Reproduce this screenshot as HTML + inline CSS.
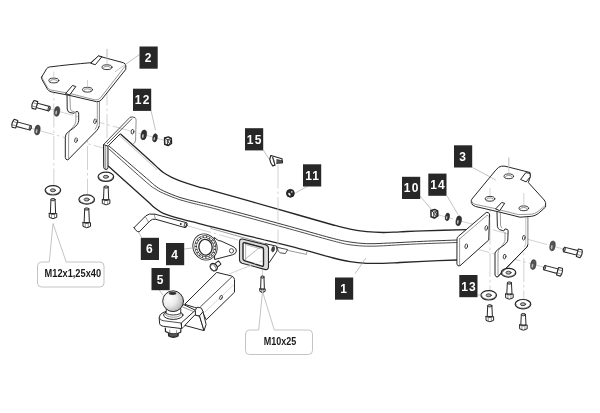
<!DOCTYPE html>
<html><head><meta charset="utf-8"><title>Tow bar assembly</title>
<style>
html,body{margin:0;padding:0;background:#fff;}
svg{display:block;will-change:transform}
.k{fill:none;stroke:#262626;stroke-width:1;stroke-linecap:round;stroke-linejoin:round}
.kw{fill:#fff;stroke:#262626;stroke-width:1;stroke-linecap:round;stroke-linejoin:round}
.t{fill:none;stroke:#555;stroke-width:.6;stroke-linecap:round;stroke-linejoin:round}
.c{stroke:#c6c6c6;stroke-width:.8;stroke-dasharray:24 3 2.5 3;fill:none}
.ld{stroke:#999;stroke-width:.6;fill:none}
.co{fill:#fff;stroke:#b5b5b5;stroke-width:.8;stroke-linejoin:round}
.lb{font-family:"Liberation Sans",sans-serif;font-weight:bold;font-size:12px;fill:#fff;text-anchor:middle;letter-spacing:1.2px}
.ct{font-family:"Liberation Sans",sans-serif;font-weight:bold;font-size:10px;fill:#1a1a1a;text-anchor:middle}
</style></head><body>
<svg width="600" height="413" viewBox="0 0 600 413">
<rect width="600" height="413" fill="#fff"/>
<line class="c" x1="53.80" y1="71.00" x2="53.80" y2="186.00"/>
<line class="c" x1="87.50" y1="81.00" x2="87.50" y2="196.00"/>
<line class="c" x1="107.00" y1="49.00" x2="107.00" y2="173.00"/>
<line class="c" x1="50.00" y1="109.00" x2="167.00" y2="141.00"/>
<line class="c" x1="31.00" y1="128.30" x2="104.00" y2="148.20"/>
<line class="c" x1="508.80" y1="157.50" x2="508.80" y2="172.00"/>
<line class="c" x1="490.00" y1="188.00" x2="490.00" y2="292.00"/>
<line class="c" x1="523.80" y1="193.00" x2="523.80" y2="300.00"/>
<line class="c" x1="509.00" y1="250.00" x2="509.00" y2="270.00"/>
<line class="c" x1="430.00" y1="212.60" x2="580.00" y2="253.60"/>
<line class="c" x1="466.00" y1="246.20" x2="560.00" y2="271.50"/>
<line class="c" x1="262.50" y1="262.00" x2="262.50" y2="278.00"/>
<path fill="#fff" stroke="none" d="M67,92 L67.2,109 Q67.5,112 70,112.6 L74.2,113.3 L75.8,111.7 L78,111.7 Q78.8,112 78.7,114.2 L78.7,120.5 C78.7,126 70,130 67.3,132.7 Q65.3,134.7 65.3,137.5 L65.3,157.5 Q65.5,159.8 67.8,160 L96.5,130.8 Q99.4,127.5 99.4,124 L99.4,96 Z"/>
<path class="k" d="M67,92 L67.2,109 Q67.5,112 70,112.6 L74.2,113.3 L75.8,111.7 L78,111.7 Q78.8,112 78.7,114.2 L78.7,120.5 C78.7,126 70,130 67.3,132.7 Q65.3,134.7 65.3,137.5 L65.3,157.5 Q65.5,159.8 67.8,160 L96.5,130.8 Q98.6,128.6 99.1,126.5" />
<path class="k" d="M99.1,126.5 Q99.4,125.5 99.4,124 L99.4,96" style="stroke:#707070;stroke-width:.9"/>
<path class="t" d="M75.9,113.2 L75.9,120.5 C75.9,125 71,128.5 69.6,131 Q68.6,133 68.6,137 L68.6,158.5" />
<path class="t" d="M69.8,94.5 L70.4,108.8 Q70.6,110.6 72,111.2 L74.2,111.5" />
<path class="t" d="M97.3,101 L97.3,124 Q97.2,126.6 95,129.4" />
<ellipse class="k" style="stroke-width:.8;fill:#fff" cx="95.00" cy="121.30" rx="1.30" ry="2.40" transform="rotate(10.0 95.00 121.30)"/>
<ellipse class="k" style="stroke-width:.8;fill:#fff" cx="76.00" cy="140.20" rx="1.30" ry="2.40" transform="rotate(10.0 76.00 140.20)"/>
<path class="kw" d="M41.7,77 L46.8,68.5 Q47.5,67.3 49.5,67 C62,65.3 78,63.8 90.8,62.7 L98.3,56 L123.3,62.7 Q126.2,63.8 125.8,66 L125.8,69.3 L101.5,99.7 Q99.5,102 96.5,101.7 L70,95.5 L51,91.8 Q48.5,91 47.5,89.3 L42,79.5 Q41.3,78 41.7,77 Z" />
<path class="t" d="M42,77.8 L47.5,87.5 Q48.5,89.3 51,90 L70,93.5 L95,99.9 Q98.5,100.3 100.5,97.8 L125.6,65.6" />
<path class="kw" d="M91,63 L98.3,56 L102,56.6 L95.6,64.4 Z" />
<path class="kw" d="M65.8,93.3 L72.5,85.5 L75.8,86.5 L70,94.6 Z" />
<ellipse class="k" style="stroke-width:.9;fill:#fff" cx="53.80" cy="80.50" rx="5.00" ry="2.40"/>
<path class="t" d="M50.00,81.40 a3.80,1.80 0 0 1 7.60,0"/>
<ellipse class="k" style="stroke-width:.9;fill:#fff" cx="87.50" cy="89.70" rx="5.00" ry="2.40"/>
<path class="t" d="M83.70,90.60 a3.80,1.80 0 0 1 7.60,0"/>
<ellipse class="k" style="stroke-width:.9;fill:#fff" cx="107.00" cy="67.20" rx="5.00" ry="2.40"/>
<path class="t" d="M103.20,68.10 a3.80,1.80 0 0 1 7.60,0"/>
<line class="c" x1="53.80" y1="71.50" x2="53.80" y2="77.00"/>
<line class="c" x1="87.50" y1="80.00" x2="87.50" y2="86.50"/>
<line class="c" x1="107.00" y1="49.00" x2="107.00" y2="64.00"/>
<line class="ld" x1="115.00" y1="71.80" x2="139.50" y2="54.50"/>
<g transform="translate(36.80 105.40) rotate(15.0)">
<path class="kw" d="M0,-2.3 L13.0,-2.3 L13.0,2.3 L0,2.3 Z"/>
<ellipse class="k" style="stroke-width:.8;fill:#999" cx="12.7" cy="0" rx="1.0" ry="2.3"/>
<path class="kw" style="stroke-width:1.1" d="M0,-3.9 L-3.8,-4.1 Q-5.9,0 -3.8,4.1 L0,3.9 Z"/>
<path class="t" d="M0,-1.5 L-4.8,-1.7 M0,1.7 L-4.8,1.8"/>
</g>
<g transform="translate(16.80 124.20) rotate(15.0)">
<path class="kw" d="M0,-2.3 L14.3,-2.3 L14.3,2.3 L0,2.3 Z"/>
<ellipse class="k" style="stroke-width:.8;fill:#999" cx="14.0" cy="0" rx="1.0" ry="2.3"/>
<path class="kw" style="stroke-width:1.1" d="M0,-3.9 L-3.8,-4.1 Q-5.9,0 -3.8,4.1 L0,3.9 Z"/>
<path class="t" d="M0,-1.5 L-4.8,-1.7 M0,1.7 L-4.8,1.8"/>
</g>
<g transform="rotate(8.0 57.00 111.40)">
<ellipse cx="57.00" cy="111.40" rx="2.70" ry="5.00" fill="#4a4a4a" stroke="#2a2a2a" stroke-width=".5"/>
<ellipse cx="56.33" cy="112.65" rx="0.89" ry="2.10" fill="#bbb"/>
</g>
<g transform="rotate(8.0 37.40 130.00)">
<ellipse cx="37.40" cy="130.00" rx="2.70" ry="5.00" fill="#4a4a4a" stroke="#2a2a2a" stroke-width=".5"/>
<ellipse cx="36.73" cy="131.25" rx="0.89" ry="2.10" fill="#bbb"/>
</g>
<ellipse class="kw" style="stroke-width:1.2" cx="52.90" cy="190.30" rx="7.80" ry="4.70"/>
<path class="t" d="M45.90,190.50 a7.00,3.80 0 0 0 14.00,0"/>
<ellipse class="k" style="stroke-width:.8;fill:#b5b5b5" cx="52.90" cy="190.30" rx="2.6" ry="1.5"/>
<ellipse class="kw" style="stroke-width:1.2" cx="86.70" cy="199.50" rx="7.80" ry="4.70"/>
<path class="t" d="M79.70,199.70 a7.00,3.80 0 0 0 14.00,0"/>
<ellipse class="k" style="stroke-width:.8;fill:#b5b5b5" cx="86.70" cy="199.50" rx="2.6" ry="1.5"/>
<ellipse class="kw" style="stroke-width:1.2" cx="105.90" cy="176.80" rx="7.80" ry="4.70"/>
<path class="t" d="M98.90,177.00 a7.00,3.80 0 0 0 14.00,0"/>
<ellipse class="k" style="stroke-width:.8;fill:#b5b5b5" cx="105.90" cy="176.80" rx="2.6" ry="1.5"/>
<path class="kw" d="M50.93,199.60 L50.39,213.46 L55.61,213.46 L55.07,199.60 Z"/>
<ellipse class="k" style="stroke-width:.8;fill:#aaa" cx="53.00" cy="199.60" rx="2.07" ry="1.2"/>
<path class="kw" d="M49.22,213.46 L49.22,217.30 Q53.00,220.00 56.78,217.30 L56.78,213.46 Q53.00,215.26 49.22,213.46 Z"/>
<path class="t" d="M51.47,214.26 L51.47,218.50 M54.53,214.26 L54.53,218.50"/>
<path class="kw" d="M84.68,209.00 L84.14,222.56 L89.36,222.56 L88.82,209.00 Z"/>
<ellipse class="k" style="stroke-width:.8;fill:#aaa" cx="86.75" cy="209.00" rx="2.07" ry="1.2"/>
<path class="kw" d="M82.97,222.56 L82.97,226.40 Q86.75,229.10 90.53,226.40 L90.53,222.56 Q86.75,224.36 82.97,222.56 Z"/>
<path class="t" d="M85.22,223.36 L85.22,227.60 M88.28,223.36 L88.28,227.60"/>
<path class="kw" d="M104.03,187.00 L103.49,199.66 L108.71,199.66 L108.17,187.00 Z"/>
<ellipse class="k" style="stroke-width:.8;fill:#aaa" cx="106.10" cy="187.00" rx="2.07" ry="1.2"/>
<path class="kw" d="M102.32,199.66 L102.32,203.50 Q106.10,206.20 109.88,203.50 L109.88,199.66 Q106.10,201.46 102.32,199.66 Z"/>
<path class="t" d="M104.57,200.46 L104.57,204.70 M107.63,200.46 L107.63,204.70"/>
<path fill="#fff" stroke="none" d="M120.80,134.20 C125.67,138.58 143.75,154.82 150.00,160.50 C156.25,166.18 156.08,166.30 158.30,168.30 C160.52,170.30 161.07,171.00 163.30,172.50 C165.53,174.00 168.92,175.92 171.70,177.30 C174.48,178.68 175.83,179.30 180.00,180.80 C184.17,182.30 191.15,184.63 196.70,186.30 C202.25,187.97 203.87,188.15 213.30,190.80 C222.73,193.45 238.85,198.08 253.30,202.20 C267.75,206.32 286.67,211.70 300.00,215.50 C313.33,219.30 324.97,222.72 333.30,225.00 C341.63,227.28 344.43,228.08 350.00,229.20 C355.57,230.32 361.15,231.15 366.70,231.70 C372.25,232.25 377.75,232.48 383.30,232.50 C388.85,232.52 393.33,232.08 400.00,231.80 C406.67,231.52 412.18,231.15 423.30,230.80 C434.42,230.45 459.47,229.88 466.70,229.70 L457.50,260.00 C451.80,260.22 432.88,260.88 423.30,261.30 C413.72,261.72 406.67,262.17 400.00,262.50 C393.33,262.83 388.85,263.17 383.30,263.30 C377.75,263.43 372.25,263.57 366.70,263.30 C361.15,263.03 355.57,262.58 350.00,261.70 C344.43,260.82 341.63,260.15 333.30,258.00 C324.97,255.85 313.33,252.27 300.00,248.80 C286.67,245.33 267.75,240.80 253.30,237.20 C238.85,233.60 222.73,229.58 213.30,227.20 C203.87,224.82 202.25,224.32 196.70,222.90 C191.15,221.48 185.57,220.30 180.00,218.70 C174.43,217.10 167.47,215.08 163.30,213.30 C159.13,211.52 157.77,210.12 155.00,208.00 C152.23,205.88 154.45,207.55 146.70,200.60 C138.95,193.65 114.87,172.02 108.50,166.30 Z"/>
<path class="k" d="M120.80,134.20 C125.67,138.58 143.75,154.82 150.00,160.50 C156.25,166.18 156.08,166.30 158.30,168.30 C160.52,170.30 161.07,171.00 163.30,172.50 C165.53,174.00 168.92,175.92 171.70,177.30 C174.48,178.68 175.83,179.30 180.00,180.80 C184.17,182.30 191.15,184.63 196.70,186.30 C202.25,187.97 203.87,188.15 213.30,190.80 C222.73,193.45 238.85,198.08 253.30,202.20 C267.75,206.32 286.67,211.70 300.00,215.50 C313.33,219.30 324.97,222.72 333.30,225.00 C341.63,227.28 344.43,228.08 350.00,229.20 C355.57,230.32 361.15,231.15 366.70,231.70 C372.25,232.25 377.75,232.48 383.30,232.50 C388.85,232.52 393.33,232.08 400.00,231.80 C406.67,231.52 412.18,231.15 423.30,230.80 C434.42,230.45 459.47,229.88 466.70,229.70" style="stroke-width:1.3"/>
<path class="k" d="M109.00,146.00 C115.28,151.40 139.03,171.80 146.70,178.40 C154.37,185.00 152.23,183.53 155.00,185.60 C157.77,187.67 159.13,188.82 163.30,190.80 C167.47,192.78 174.43,195.67 180.00,197.50 C185.57,199.33 191.15,200.42 196.70,201.80 C202.25,203.18 203.87,203.35 213.30,205.80 C222.73,208.25 238.85,212.58 253.30,216.50 C267.75,220.42 286.67,225.63 300.00,229.30 C313.33,232.97 324.97,236.38 333.30,238.50 C341.63,240.62 344.43,241.13 350.00,242.00 C355.57,242.87 361.15,243.48 366.70,243.70 C372.25,243.92 377.75,243.50 383.30,243.30 C388.85,243.10 393.33,242.83 400.00,242.50 C406.67,242.17 413.72,241.72 423.30,241.30 C432.88,240.88 451.80,240.22 457.50,240.00" style="stroke-width:.9"/>
<path class="k" d="M109.00,149.00 C115.28,154.58 139.03,175.88 146.70,182.50 C154.37,189.12 152.23,186.90 155.00,188.70 C157.77,190.50 159.13,191.45 163.30,193.30 C167.47,195.15 174.43,197.98 180.00,199.80 C185.57,201.62 191.15,202.78 196.70,204.20 C202.25,205.62 203.87,205.83 213.30,208.30 C222.73,210.77 238.85,215.08 253.30,219.00 C267.75,222.92 286.67,228.13 300.00,231.80 C313.33,235.47 324.97,238.83 333.30,241.00 C341.63,243.17 344.43,243.93 350.00,244.80 C355.57,245.67 361.15,246.03 366.70,246.20 C372.25,246.37 377.75,246.03 383.30,245.80 C388.85,245.57 393.33,245.15 400.00,244.80 C406.67,244.45 413.72,244.08 423.30,243.70 C432.88,243.32 451.80,242.70 457.50,242.50" style="stroke-width:.8"/>
<path class="k" d="M108.50,166.30 C114.87,172.02 138.95,193.65 146.70,200.60 C154.45,207.55 152.23,205.88 155.00,208.00 C157.77,210.12 159.13,211.52 163.30,213.30 C167.47,215.08 174.43,217.10 180.00,218.70 C185.57,220.30 191.15,221.48 196.70,222.90 C202.25,224.32 203.87,224.82 213.30,227.20 C222.73,229.58 238.85,233.60 253.30,237.20 C267.75,240.80 286.67,245.33 300.00,248.80 C313.33,252.27 324.97,255.85 333.30,258.00 C341.63,260.15 344.43,260.82 350.00,261.70 C355.57,262.58 361.15,263.03 366.70,263.30 C372.25,263.57 377.75,263.43 383.30,263.30 C388.85,263.17 393.33,262.83 400.00,262.50 C406.67,262.17 413.72,261.72 423.30,261.30 C432.88,260.88 451.80,260.22 457.50,260.00" style="stroke-width:1.3"/>
<path class="t" d="M119.40,135.60 C124.27,139.98 142.35,156.22 148.60,161.90 C154.85,167.58 155.52,168.40 156.90,169.70" style="stroke:#999"/>
<line class="c" x1="278.00" y1="164.50" x2="278.00" y2="247.00"/>
<path class="k" d="M120,134 L108.6,145.5" />
<path class="k" d="M103.6,144.5 L130,117.3 Q132.3,116.3 134.9,117.6" style="stroke:#3a3a3a;stroke-width:.9"/>
<path class="k" d="M134.9,117.6 Q136.2,118.3 136.1,120 L135.6,140 Q135.3,142.8 133.4,144" style="stroke:#777;stroke-width:.8"/>
<path class="k" d="M107.4,143.6 L131.75,118.9" style="stroke-width:.8"/>
<path class="kw" d="M103.5,145 L103.7,167.5 Q104,169.4 106,169.5 Q108,169.3 108,167.5 L108,146.5 Z" style="fill:#e6e6e6"/>
<path class="t" d="M105.2,146 L105.3,168.6" />
<ellipse class="k" style="stroke-width:.8;fill:#fff" cx="132.50" cy="131.70" rx="1.30" ry="2.40" transform="rotate(10.0 132.50 131.70)"/>
<g transform="rotate(10.0 143.75 134.90)">
<ellipse cx="143.75" cy="134.90" rx="2.80" ry="5.00" fill="#303030" stroke="#2a2a2a" stroke-width=".5"/>
<ellipse cx="143.05" cy="136.15" rx="0.92" ry="2.10" fill="#bbb"/>
</g>
<g transform="rotate(10.0 155.00 137.80)">
<ellipse cx="155.00" cy="137.80" rx="2.30" ry="4.20" fill="#303030" stroke="#2a2a2a" stroke-width=".5"/>
<ellipse cx="154.43" cy="138.85" rx="0.76" ry="1.76" fill="#bbb"/>
</g>
<g transform="translate(167.90 141.20) rotate(0.0) scale(1.00)">
<path class="kw" style="stroke-width:1.5" d="M-3.3,-3.2 L0.4,-4.3 L3.4,-2.8 L3.6,2.1 L0.2,4.3 L-3.2,3 Z"/>
<path class="k" style="stroke-width:.9" d="M-3.3,-3.2 L-0.6,-1.5 L-0.4,4 M-0.6,-1.5 L3.4,-2.8"/>
<ellipse class="k" style="stroke-width:.9" cx="1.6" cy="0.4" rx="1.1" ry="1.8"/>
</g>
<line class="ld" x1="151.00" y1="110.50" x2="155.50" y2="130.30"/>
<path class="kw" d="M457,238.5 Q457,237 458.75,236 L486.25,212.5 Q488.5,211.5 489.5,214 L488.75,240 L460,265.75 Q457.5,266.6 457,264.5 Z" />
<path class="t" d="M459.6,238.5 L459.6,265.3" />
<path class="t" d="M459.8,238.7 L487,215.4 Q488,215 488.3,216" />
<ellipse class="k" style="stroke-width:.8;fill:#fff" cx="486.25" cy="228.00" rx="1.30" ry="2.40" transform="rotate(10.0 486.25 228.00)"/>
<ellipse class="k" style="stroke-width:.8;fill:#fff" cx="466.25" cy="246.25" rx="1.30" ry="2.40" transform="rotate(10.0 466.25 246.25)"/>
<g transform="translate(434.25 213.75) rotate(0.0) scale(1.00)">
<path class="kw" style="stroke-width:1.5" d="M-3.3,-3.2 L0.4,-4.3 L3.4,-2.8 L3.6,2.1 L0.2,4.3 L-3.2,3 Z"/>
<path class="k" style="stroke-width:.9" d="M-3.3,-3.2 L-0.6,-1.5 L-0.4,4 M-0.6,-1.5 L3.4,-2.8"/>
<ellipse class="k" style="stroke-width:.9" cx="1.6" cy="0.4" rx="1.1" ry="1.8"/>
</g>
<g transform="rotate(10.0 447.40 216.80)">
<ellipse cx="447.40" cy="216.80" rx="2.10" ry="3.90" fill="#303030" stroke="#2a2a2a" stroke-width=".5"/>
<ellipse cx="446.88" cy="217.78" rx="0.69" ry="1.64" fill="#bbb"/>
</g>
<g transform="rotate(10.0 458.70 220.80)">
<ellipse cx="458.70" cy="220.80" rx="2.70" ry="5.00" fill="#303030" stroke="#2a2a2a" stroke-width=".5"/>
<ellipse cx="458.02" cy="222.05" rx="0.89" ry="2.10" fill="#bbb"/>
</g>
<line class="ld" x1="420.00" y1="196.00" x2="431.00" y2="209.00"/>
<line class="ld" x1="446.75" y1="195.50" x2="458.00" y2="214.50"/>
<path fill="#fff" stroke="none" d="M497,212 L497.4,226.5 Q497.8,228.6 499.5,229.6 L503.75,231 L505,228.9 L507.6,229.5 Q508.2,230 508.1,232 L507.8,240 C507.5,245 497,248 495,253 L495,275 Q495.5,277 497.5,277 L526.5,247.5 Q527.9,245.8 527.9,243 L527.9,214 Z"/>
<path class="k" d="M497,212 L497.4,226.5 Q497.8,228.6 499.5,229.6 L503.75,231 L505,228.9 L507.6,229.5 Q508.2,230 508.1,232 L507.8,240 C507.5,245 497,248 495,253 L495,275 Q495.5,277 497.5,277 L526.5,247.5 Q527.5,246.3 527.8,244.6" />
<path class="k" d="M527.8,244.6 Q527.9,243.8 527.9,243 L527.9,214" style="stroke:#707070;stroke-width:.9"/>
<path class="t" d="M505,232.5 L505,240 C505,244 499,247.5 498,252.5 L498,274.5" />
<path class="t" d="M500.2,210.5 L500.6,225.5 Q500.8,227.4 502,228" />
<path class="t" d="M525.8,216 L525.8,243 Q525.6,245.2 524.3,246.8" style="stroke:#999"/>
<ellipse class="k" style="stroke-width:.8;fill:#fff" cx="523.80" cy="237.70" rx="1.30" ry="2.40" transform="rotate(10.0 523.80 237.70)"/>
<ellipse class="k" style="stroke-width:.8;fill:#fff" cx="504.60" cy="256.60" rx="1.30" ry="2.40" transform="rotate(10.0 504.60 256.60)"/>
<path class="kw" d="M496,169.8 Q498.5,166.5 501.5,166.2 L505,166.2 L530,172.5 L530.3,176.7 L528.3,182.5 L544.2,200 Q546.3,202.5 545.6,205 L545.6,207 L538.3,213.5 Q535,216 531.7,216.3 L520,217.2 L500,212.2 L475.5,206.5 Q472,205.5 471.3,202.5 L471.3,200.5 Q471.5,199.3 472.5,198.3 Z" />
<path class="t" d="M471.5,201 Q472.3,203.6 475,204.3 L495.8,208.7 M500.2,210 L518.5,214.6 L531.5,214.2 Q535,213.8 538,211.5 L545.2,205.5" />
<path class="kw" d="M520.8,179.2 L525.8,172.6 L530,173.4 L530.3,176.7 L526.4,181.6 Z" />
<path class="kw" d="M495.8,208.7 L501.7,202.5 L504.7,203.3 L500,210.3 Z" />
<ellipse class="k" style="stroke-width:.9;fill:#fff" cx="508.80" cy="176.30" rx="4.80" ry="2.40"/>
<path class="t" d="M505.20,177.20 a3.60,1.80 0 0 1 7.20,0"/>
<ellipse class="k" style="stroke-width:.9;fill:#fff" cx="490.00" cy="198.80" rx="4.80" ry="2.40"/>
<path class="t" d="M486.40,199.70 a3.60,1.80 0 0 1 7.20,0"/>
<ellipse class="k" style="stroke-width:.9;fill:#fff" cx="523.80" cy="208.30" rx="4.80" ry="2.40"/>
<path class="t" d="M520.20,209.20 a3.60,1.80 0 0 1 7.20,0"/>
<line class="c" x1="508.80" y1="157.50" x2="508.80" y2="173.00"/>
<line class="c" x1="490.00" y1="188.00" x2="490.00" y2="196.00"/>
<line class="c" x1="523.80" y1="193.00" x2="523.80" y2="205.50"/>
<line class="ld" x1="472.50" y1="167.50" x2="495.80" y2="180.00"/>
<g transform="rotate(8.0 552.50 245.90)">
<ellipse cx="552.50" cy="245.90" rx="2.70" ry="5.00" fill="#555" stroke="#2a2a2a" stroke-width=".5"/>
<ellipse cx="551.83" cy="247.15" rx="0.89" ry="2.10" fill="#bbb"/>
</g>
<g transform="rotate(8.0 533.30 264.60)">
<ellipse cx="533.30" cy="264.60" rx="2.70" ry="5.00" fill="#555" stroke="#2a2a2a" stroke-width=".5"/>
<ellipse cx="532.62" cy="265.85" rx="0.89" ry="2.10" fill="#bbb"/>
</g>
<g transform="translate(1139 0) scale(-1 1)">
<g transform="translate(561.70 252.80) rotate(-14.0)">
<path class="kw" d="M0,-2.3 L13.8,-2.3 L13.8,2.3 L0,2.3 Z"/>
<ellipse class="k" style="stroke-width:.8;fill:#999" cx="13.5" cy="0" rx="1.0" ry="2.3"/>
<path class="kw" style="stroke-width:1.1" d="M0,-3.9 L-3.8,-4.1 Q-5.9,0 -3.8,4.1 L0,3.9 Z"/>
<path class="t" d="M0,-1.5 L-4.8,-1.7 M0,1.7 L-4.8,1.8"/>
</g>
<g transform="translate(581.40 271.20) rotate(-15.0)">
<path class="kw" d="M0,-2.3 L13.8,-2.3 L13.8,2.3 L0,2.3 Z"/>
<ellipse class="k" style="stroke-width:.8;fill:#999" cx="13.5" cy="0" rx="1.0" ry="2.3"/>
<path class="kw" style="stroke-width:1.1" d="M0,-3.9 L-3.8,-4.1 Q-5.9,0 -3.8,4.1 L0,3.9 Z"/>
<path class="t" d="M0,-1.5 L-4.8,-1.7 M0,1.7 L-4.8,1.8"/>
</g>
</g>
<ellipse class="kw" style="stroke-width:1.2" cx="508.50" cy="272.70" rx="7.30" ry="4.40"/>
<path class="t" d="M502.00,272.90 a6.50,3.50 0 0 0 13.00,0"/>
<ellipse class="k" style="stroke-width:.8;fill:#b5b5b5" cx="508.50" cy="272.70" rx="2.6" ry="1.5"/>
<path class="k" d="M497.5,277 L527.3,246.5" />
<ellipse class="kw" style="stroke-width:1.2" cx="488.70" cy="295.30" rx="7.80" ry="4.70"/>
<path class="t" d="M481.70,295.50 a7.00,3.80 0 0 0 14.00,0"/>
<ellipse class="k" style="stroke-width:.8;fill:#b5b5b5" cx="488.70" cy="295.30" rx="2.6" ry="1.5"/>
<ellipse class="kw" style="stroke-width:1.2" cx="523.00" cy="304.20" rx="7.80" ry="4.70"/>
<path class="t" d="M516.00,304.40 a7.00,3.80 0 0 0 14.00,0"/>
<ellipse class="k" style="stroke-width:.8;fill:#b5b5b5" cx="523.00" cy="304.20" rx="2.6" ry="1.5"/>
<path class="kw" d="M487.73,305.80 L487.19,316.56 L492.41,316.56 L491.87,305.80 Z"/>
<ellipse class="k" style="stroke-width:.8;fill:#aaa" cx="489.80" cy="305.80" rx="2.07" ry="1.2"/>
<path class="kw" d="M486.02,316.56 L486.02,320.40 Q489.80,323.10 493.58,320.40 L493.58,316.56 Q489.80,318.36 486.02,316.56 Z"/>
<path class="t" d="M488.27,317.36 L488.27,321.60 M491.33,317.36 L491.33,321.60"/>
<path class="kw" d="M507.33,283.00 L506.79,293.96 L512.01,293.96 L511.47,283.00 Z"/>
<ellipse class="k" style="stroke-width:.8;fill:#aaa" cx="509.40" cy="283.00" rx="2.07" ry="1.2"/>
<path class="kw" d="M505.62,293.96 L505.62,297.80 Q509.40,300.50 513.18,297.80 L513.18,293.96 Q509.40,295.76 505.62,293.96 Z"/>
<path class="t" d="M507.87,294.76 L507.87,299.00 M510.93,294.76 L510.93,299.00"/>
<path class="kw" d="M521.33,314.60 L520.79,324.96 L526.01,324.96 L525.47,314.60 Z"/>
<ellipse class="k" style="stroke-width:.8;fill:#aaa" cx="523.40" cy="314.60" rx="2.07" ry="1.2"/>
<path class="kw" d="M519.62,324.96 L519.62,328.80 Q523.40,331.50 527.18,328.80 L527.18,324.96 Q523.40,326.76 519.62,324.96 Z"/>
<path class="t" d="M521.87,325.76 L521.87,330.00 M524.93,325.76 L524.93,330.00"/>
<line class="ld" x1="477.50" y1="295.00" x2="481.50" y2="295.00"/>
<path class="t" d="M210.8,226.2 L210.8,228.4 L270,245.2 L288.8,250.6 L306.4,254.4 L306.9,252.2" />
<path class="kw" d="M277.75,247.5 L287.7,249.6 L285.3,253.6 L280.1,252.75 L278.3,251 Z" style="stroke-width:.8"/>
<path class="kw" d="M266,243.8 L276.6,246.2 L277,251 L269.5,262.2 L266,266 Z" />
<ellipse cx="273.1" cy="249.2" rx="1.4" ry="2.7" fill="#444" stroke="#222" stroke-width=".6" transform="rotate(12 273.1 249.2)"/>
<path class="k" d="M242.3,239 L265.5,244.8 Q268.4,245.8 268.5,248.2 L268.5,266.6 Q268.3,270 265.4,269.6 L242,263.2 Q239.5,262.4 239.5,259.8 L239.5,241.8 Q239.7,238.6 242.3,239 Z" style="fill:#dcdcdc;stroke-width:1.1"/>
<path class="k" d="M244.6,242.7 L262.3,247.5 Q263.5,247.9 263.5,249.2 L263.5,265 Q263.4,266.6 261.9,266.2 L244.3,260.6 Q243,260.2 243,258.8 L243,243.9 Q243.1,242.4 244.6,242.7 Z" style="fill:#fff;stroke-width:1.4"/>
<path class="t" d="M244.5,259.6 L259.5,247.6 M245.6,244.3 L245.6,259.6 M245.6,244.6 L261.5,249" style="stroke:#888"/>
<path class="kw" d="M261.03,277.00 L260.64,288.92 L264.36,288.92 L263.97,277.00 Z"/>
<ellipse class="k" style="stroke-width:.8;fill:#aaa" cx="262.50" cy="277.00" rx="1.47" ry="1.2"/>
<path class="kw" d="M259.81,288.92 L259.81,291.30 Q262.50,294.00 265.19,291.30 L265.19,288.92 Q262.50,290.72 259.81,288.92 Z"/>
<path class="t" d="M261.41,289.72 L261.41,292.50 M263.59,289.72 L263.59,292.50"/>
<path class="kw" d="M214.5,237.6 L217,239.6 Q218.6,241 221,241 L233,246.5 Q237,248.6 236.4,251.2 Q235.8,254 232.5,254.8 L215,259.4 Z"/>
<ellipse class="k" style="fill:#fff;stroke-width:1;stroke:#555" cx="231.5" cy="250.8" rx="2.1" ry="2.2"/>
<ellipse cx="205" cy="247" rx="11.9" ry="13.3" fill="#fff" stroke="#262626" stroke-width=".9" transform="rotate(-25 205 247)"/>
<ellipse cx="205.3" cy="247.1" rx="9.4" ry="10.6" fill="none" stroke="#333" stroke-width="2.5" transform="rotate(-20 205.3 247.1)"/>
<ellipse cx="205.3" cy="247.1" rx="9.4" ry="10.6" fill="none" stroke="#fff" stroke-width="1.4" stroke-dasharray="1.2 2.1" stroke-linecap="round" transform="rotate(-20 205.3 247.1)"/>
<ellipse cx="205.5" cy="247.2" rx="6.6" ry="7.9" fill="#fff" stroke="#262626" stroke-width="1.3" transform="rotate(-8 205.5 247.2)"/>
<line class="ld" x1="184.25" y1="249.00" x2="192.50" y2="248.00"/>
<g transform="translate(214.2 266.8) rotate(-38)">
<path class="kw" d="M0,-2.2 L7,-2 L7,2 L0,2.2 Z"/>
<ellipse class="kw" style="stroke-width:1.3" cx="-0.6" cy="0" rx="3.2" ry="4"/>
<ellipse class="t" cx="-1.4" cy="0" rx="2.4" ry="3.4"/>
</g>
<path class="kw" d="M134.2,227.5 L145.8,215.8 Q148.5,213.2 155,214.2 L185.8,222.5 Q187.6,225 185,227.6 L155.8,219.3 Q152,218.6 150,220.8 L139.2,231.9 Q135.6,231.6 134.2,227.5 Z" />
<path class="t" d="M145.2,216.4 L148.4,221.9 M154.2,214.1 L155.4,219.2" />
<ellipse class="k" style="stroke-width:.8" cx="185.7" cy="225" rx="1.4" ry="2.8" transform="rotate(12 185.7 225)"/>
<circle cx="180.8" cy="224" r=".9" fill="#222"/>
<line class="ld" x1="141.70" y1="237.50" x2="138.30" y2="232.00"/>
<line class="c" x1="188.00" y1="226.00" x2="238.00" y2="240.00"/>
<line class="c" x1="229.00" y1="274.00" x2="262.00" y2="261.00"/>
<path class="kw" d="M185,304 L216.75,272.4 L231.3,275.9 Q234.4,277 234.5,279.6 L234.5,292.2 L206.3,319.7 L200.8,309 L195,307.5 Z" />
<path class="k" d="M232,276.8 L200.6,306.6" style="stroke-width:.8"/>
<path class="t" d="M234,284.5 L205,312" style="stroke:#bbb"/>
<ellipse class="k" style="stroke-width:.8;fill:#fff" cx="221.00" cy="297.50" rx="1.20" ry="2.30" transform="rotate(20.0 221.00 297.50)"/>
<path class="kw" d="M159.2,317.5 Q159.4,314 163,312.6 L183.8,304.7 L195.4,310.2 L181.2,323 L181.7,328.6 L163.3,326.3 Q160,325.8 159.7,324.2 Z" />
<path class="k" d="M159.3,318 Q160,320.3 163,320.7 L181.2,323 L181.7,328.6 L185.2,325.5" style="stroke-width:.8"/>
<path class="t" d="M182.2,306.8 L193.6,311.6" />
<path class="kw" d="M195.4,314.8 L199.5,315.8 L204,330.6 L185.2,325.5 Z" />
<path class="kw" d="M203,311.8 L206.1,324.5 L204,330.6 L199.5,315.8 Z" />
<path class="kw" d="M195.4,314.8 L195.4,310.4 Q196.3,307 198,307.2 L201.5,308.2 L203,311.8 L199.5,315.8 Z" />
<ellipse class="kw" cx="173.3" cy="315" rx="9.7" ry="4.4"/>
<path class="t" d="M165,313.6 a8.3,3.6 0 0 0 16.6,0"/>
<path class="kw" d="M166.3,309 L166.1,313.5 Q173,316.6 180.6,313.5 L180.8,309 Z" style="stroke-width:.9"/>
<defs><radialGradient id="bg" cx="0.3" cy="0.35" r="0.8"><stop offset="0" stop-color="#fff"/><stop offset="0.45" stop-color="#ececec"/><stop offset="1" stop-color="#a8a8a8"/></radialGradient></defs>
<circle class="k" style="fill:url(#bg)" cx="173.1" cy="301.2" r="10.4"/>
<ellipse cx="172.6" cy="293.3" rx="3.8" ry="1.6" fill="#333"/>
<path class="kw" d="M165.3,328 L165.5,331.5 Q173,336 180.8,332.2 L180.8,329.5" style="stroke-width:1.2"/>
<path class="t" d="M169.7,330.2 L169.8,333.6 M176.5,330.6 L176.5,333.7" />
<path class="k" d="M168.6,333.6 L168.8,336 Q173.3,338.6 178,336 L178.2,333.6" style="stroke-width:1.4;fill:#555"/>
<line class="ld" x1="159.20" y1="290.00" x2="163.30" y2="295.50"/>
<path class="k" d="M271,155.5 L269.7,159 Q270.4,163.2 272.7,165.8 L275,165.2 L272.7,157.3" style="stroke-width:1.2"/>
<path class="k" d="M271,155.5 L282,158.8 L282.6,162.8 L276.6,163.2" style="stroke-width:1.1"/>
<path class="k" d="M277,159.6 L282,160.6 L282.3,162.7 L277.2,163 Z" style="fill:#555;stroke-width:.6"/>
<path class="t" d="M273.3,158.3 L274.6,163" />
<line class="ld" x1="263.30" y1="150.00" x2="268.75" y2="158.75"/>
<circle cx="290.4" cy="193.3" r="3.9" fill="#2a2a2a" stroke="#222" stroke-width="1"/>
<ellipse cx="289.4" cy="194.3" rx=".9" ry="1.6" fill="#fff" transform="rotate(-35 289.4 194.3)"/>
<ellipse cx="291.8" cy="191.9" rx=".9" ry=".7" fill="#fff"/>
<line class="ld" x1="295.40" y1="192.90" x2="307.50" y2="186.25"/>
<line class="ld" x1="355.00" y1="273.80" x2="365.80" y2="258.00"/>
<path class="co" d="M49.3,262 L41.5,262 Q37.5,262 37.5,266 L37.5,283 Q37.5,287 41.5,287 L100,287 Q104,287 104,283 L104,266 Q104,262 100,262 L66.2,262 L53,223.5 Z"/>
<text class="ct" x="72.8" y="276.5" textLength="56.5" lengthAdjust="spacingAndGlyphs">M12x1,25x40</text>
<path class="co" d="M258.7,330 L249.5,330 Q245.5,330 245.5,334 L245.5,350.5 Q245.5,354.5 249.5,354.5 L308.5,354.5 Q312.5,354.5 312.5,350.5 L312.5,334 Q312.5,330 308.5,330 L274.3,330 L262.5,291.5 Z"/>
<text class="ct" x="280" y="345.4" textLength="32.5" lengthAdjust="spacingAndGlyphs">M10x25</text>
<rect x="139.50" y="46.50" width="18.20" height="22.20" fill="#272727"/>
<text class="lb" x="148.60" y="62.10">2</text>
<rect x="133.00" y="88.70" width="18.20" height="22.20" fill="#272727"/>
<text class="lb" x="142.70" y="104.30">12</text>
<rect x="245.00" y="128.20" width="18.20" height="22.20" fill="#272727"/>
<text class="lb" x="254.70" y="143.80">15</text>
<rect x="303.00" y="164.30" width="18.20" height="22.20" fill="#272727"/>
<text class="lb" x="312.70" y="179.90">11</text>
<rect x="454.00" y="145.30" width="18.20" height="22.20" fill="#272727"/>
<text class="lb" x="463.10" y="160.90">3</text>
<rect x="402.00" y="176.80" width="18.20" height="22.20" fill="#272727"/>
<text class="lb" x="411.70" y="192.40">10</text>
<rect x="428.30" y="173.60" width="18.20" height="22.20" fill="#272727"/>
<text class="lb" x="438.00" y="189.20">14</text>
<rect x="459.30" y="275.00" width="18.20" height="22.20" fill="#272727"/>
<text class="lb" x="469.00" y="290.60">13</text>
<rect x="335.00" y="277.50" width="18.20" height="22.20" fill="#272727"/>
<text class="lb" x="344.10" y="293.10">1</text>
<rect x="140.80" y="237.80" width="18.20" height="22.20" fill="#272727"/>
<text class="lb" x="149.90" y="253.40">6</text>
<rect x="166.00" y="243.00" width="18.20" height="22.20" fill="#272727"/>
<text class="lb" x="175.10" y="258.60">4</text>
<rect x="151.50" y="268.00" width="18.20" height="22.20" fill="#272727"/>
<text class="lb" x="160.60" y="283.60">5</text>
</svg>
</body></html>
